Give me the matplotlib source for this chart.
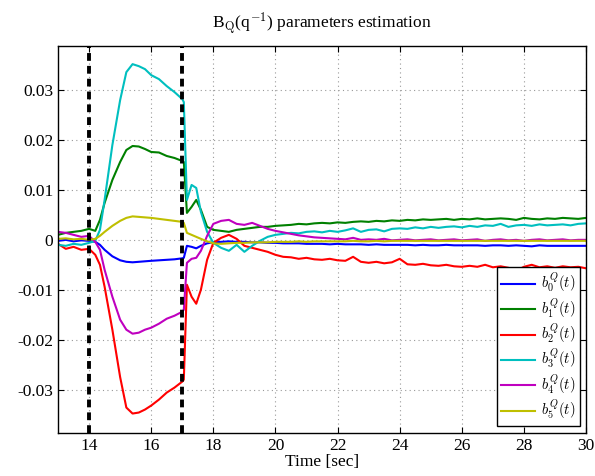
import numpy as np
import matplotlib
matplotlib.use("Agg")
import matplotlib.pyplot as plt

plt.rcParams['font.family'] = ['Liberation Serif', 'DejaVu Serif']
plt.rcParams['mathtext.fontset'] = 'cm'
plt.rcParams['axes.unicode_minus'] = False

# sample times [sec]
t = [13.0, 13.25, 13.5, 13.75, 14.0, 14.2, 14.35, 14.5, 14.75, 15.0,
     15.2, 15.4, 15.6, 15.8, 16.0, 16.25, 16.5, 16.75, 17.0, 17.05,
     17.15, 17.3, 17.45, 17.6, 17.8,
     18.0, 18.25, 18.5, 18.75, 19.0, 19.25, 19.5, 19.75, 20.0, 20.25,
     20.5, 20.75, 21.0, 21.25, 21.5, 21.75, 22.0, 22.25, 22.5, 22.75,
     23.0, 23.25, 23.5, 23.75, 24.0, 24.25, 24.5, 24.75, 25.0, 25.25,
     25.5, 25.75, 26.0, 26.25, 26.5, 26.75, 27.0, 27.25, 27.5, 27.75,
     28.0, 28.25, 28.5, 28.75, 29.0, 29.25, 29.5, 29.75, 30.0]

# parameter estimates, in units of 1e-3
b0 = [-0.2, 0.0, -0.3, -0.1, -0.2, -0.4, -1.0, -2.0, -3.3, -4.1,
      -4.4, -4.5, -4.4, -4.3, -4.2, -4.1, -4.0, -3.9, -3.7, -3.6,
      -1.2, -1.4, -1.7, -1.2, -0.7,
      -0.5, -0.4, -0.3, -0.4, -0.4, -0.5, -0.5, -0.6, -0.6, -0.7,
      -0.7, -0.7, -0.8, -0.8, -0.8, -0.9, -0.8, -0.9, -0.9, -0.9,
      -1.0, -0.9, -1.0, -1.0, -1.0, -1.0, -1.1, -1.0, -1.1, -1.1,
      -1.0, -1.1, -1.1, -1.1, -1.1, -1.2, -1.1, -1.1, -1.2, -1.1,
      -1.2, -1.3, -1.1, -1.2, -1.2, -1.2, -1.2, -1.2, -1.2]
b1 = [1.0, 1.4, 1.6, 1.8, 2.2, 1.8, 4.0, 7.4, 12.0, 15.6,
      18.0, 18.8, 18.7, 18.2, 17.6, 17.5, 16.8, 16.4, 15.8, 15.6,
      5.4, 6.6, 8.0, 6.0, 2.6,
      2.0, 1.8, 1.6, 2.0, 2.2, 2.4, 2.6, 2.6, 2.8, 2.9,
      3.0, 3.2, 3.1, 3.3, 3.4, 3.3, 3.5, 3.4, 3.6, 3.7,
      3.6, 3.8, 3.7, 3.9, 3.8, 4.0, 3.9, 4.1, 4.0, 4.1,
      4.2, 4.0, 4.2, 4.1, 4.3, 4.1, 4.2, 4.3, 4.2, 4.0,
      4.4, 4.2, 4.1, 4.3, 4.2, 4.4, 4.3, 4.2, 4.4]
b2 = [-0.8, -1.8, -1.4, -2.0, -1.8, -3.0, -5.0, -9.4, -18.0, -27.5,
      -33.6, -34.8, -34.6, -34.0, -33.2, -32.0, -30.6, -29.6, -28.4, -28.0,
      -9.0, -11.4, -12.8, -10.0, -4.0,
      -0.6, 0.4, 1.0, 0.2, -1.2, -1.6, -2.0, -2.4, -3.0, -3.4,
      -3.5, -3.8, -3.6, -3.9, -4.0, -3.8, -4.1, -4.2, -3.4, -4.4,
      -4.6, -4.4, -4.7, -4.5, -3.8, -4.9, -5.0, -4.8, -5.1, -5.2,
      -5.0, -5.3, -5.4, -5.2, -5.4, -5.0, -5.5, -5.3, -5.6, -6.2,
      -5.4, -5.0, -5.5, -5.3, -5.6, -5.3, -5.5, -5.4, -5.7]
b3 = [-1.0, -1.2, -0.8, -1.0, -0.6, -0.2, 2.0, 8.0, 19.0, 28.0,
      33.6, 35.2, 34.8, 34.2, 33.0, 32.2, 30.8, 29.6, 28.2, 27.6,
      8.0, 11.0, 10.4, 5.6, 1.6,
      -0.6, -1.6, -2.2, -1.0, -2.4, -1.2, -0.2, 0.6, 1.0, 1.2,
      1.4, 1.3, 1.6, 1.7, 1.5, 1.8, 1.6, 1.9, 2.3, 1.6,
      2.0, 2.1, 1.7, 2.2, 2.3, 2.2, 2.5, 2.3, 2.6, 2.4,
      2.6, 2.7, 2.5, 2.8, 2.6, 2.9, 2.8, 3.2, 2.6, 2.9,
      3.0, 2.8, 3.1, 2.9, 3.0, 3.1, 2.9, 3.2, 3.3]
b4 = [1.6, 1.4, 1.0, 0.6, 0.8, -0.4, -2.0, -6.0, -11.4, -16.0,
      -18.0, -18.8, -18.6, -18.0, -17.6, -16.8, -15.8, -15.2, -14.4, -14.0,
      -4.6, -3.8, -3.6, -2.2, 0.8,
      3.2, 3.8, 4.0, 3.2, 3.0, 3.4, 2.8, 2.2, 1.8, 1.5,
      1.2, 0.9, 0.7, 0.5, 0.4, 0.3, 0.2, 0.1, 0.4, 0.0,
      0.1, 0.0, 0.2, -0.1, 0.0, 0.1, -0.1, 0.0, 0.1, -0.1,
      0.0, 0.1, -0.1, 0.0, 0.1, -0.2, 0.0, 0.1, -0.1, 0.0,
      -0.2, 0.0, 0.1, -0.1, 0.0, 0.1, -0.1, 0.0, 0.0]
b5 = [0.2, 0.3, 0.1, 0.2, 0.0, 0.2, 0.8, 1.6, 2.8, 3.8,
      4.4, 4.7, 4.6, 4.5, 4.4, 4.2, 4.0, 3.8, 3.6, 3.4,
      1.4, 1.0, 0.6, 0.2, -0.3,
      -0.7, -0.8, -0.7, -0.6, -0.6, -0.5, -0.5, -0.5, -0.4, -0.4,
      -0.4, -0.3, -0.4, -0.3, -0.3, -0.3, -0.3, -0.3, -0.2, -0.3,
      -0.3, -0.2, -0.3, -0.2, -0.2, -0.2, -0.2, -0.2, -0.2, -0.2,
      -0.2, -0.2, -0.2, -0.2, -0.2, -0.2, -0.2, -0.2, -0.2, -0.2,
      -0.2, -0.2, -0.2, -0.2, -0.2, -0.2, -0.2, -0.2, -0.2]

series = [b0, b1, b2, b3, b4, b5]
colors = ['#0000ff', '#008000', '#ff0000', '#00bfbf', '#bf00bf', '#bfbf00']
labels = [r'$b_%d^Q(t)$' % i for i in range(6)]
switch_times = [14, 17]

fig = plt.figure(figsize=(5.95, 4.76), dpi=100)
ax = fig.add_axes([0.0975, 0.0903, 0.8875, 0.8127])

t = np.array(t)
for vals, c, lab in zip(series, colors, labels):
    ax.plot(t, np.array(vals) * 1e-3, color=c, lw=1.5, label=lab)

for ts in switch_times:
    ax.axvline(ts, color='k', lw=2.8, linestyle=(0, (2.0, 1.3)), zorder=5)

ax.set_xlim(13, 30)
ax.set_ylim(-0.0387, 0.0388)
ax.set_xticks([14, 16, 18, 20, 22, 24, 26, 28, 30])
yt = [-0.03, -0.02, -0.01, 0, 0.01, 0.02, 0.03]
ax.set_yticks(yt)
ax.set_yticklabels(['-0.03', '-0.02', '-0.01', '0', '0.01', '0.02', '0.03'])
ax.tick_params(direction='in', top=True, right=True, length=4, labelsize=12.5, width=0.8)
ax.grid(True, linestyle=(0, (1, 3)), color='#999999', lw=0.8)
for s in ax.spines.values():
    s.set_linewidth(1.0)

ax.set_title(r'B$_\mathrm{Q}$(q$^{-1}$) parameters estimation', fontsize=12.5, pad=12)
ax.set_xlabel('Time [sec]', fontsize=12.5, labelpad=0)

leg = ax.legend(loc='lower right', fontsize=10.5, fancybox=False, framealpha=1,
                edgecolor='k', handlelength=2.3, handletextpad=0.4,
                borderaxespad=0.45, borderpad=0.3, labelspacing=0.08)
leg.get_frame().set_linewidth(1.0)

fig.savefig('out.png', dpi=100)
